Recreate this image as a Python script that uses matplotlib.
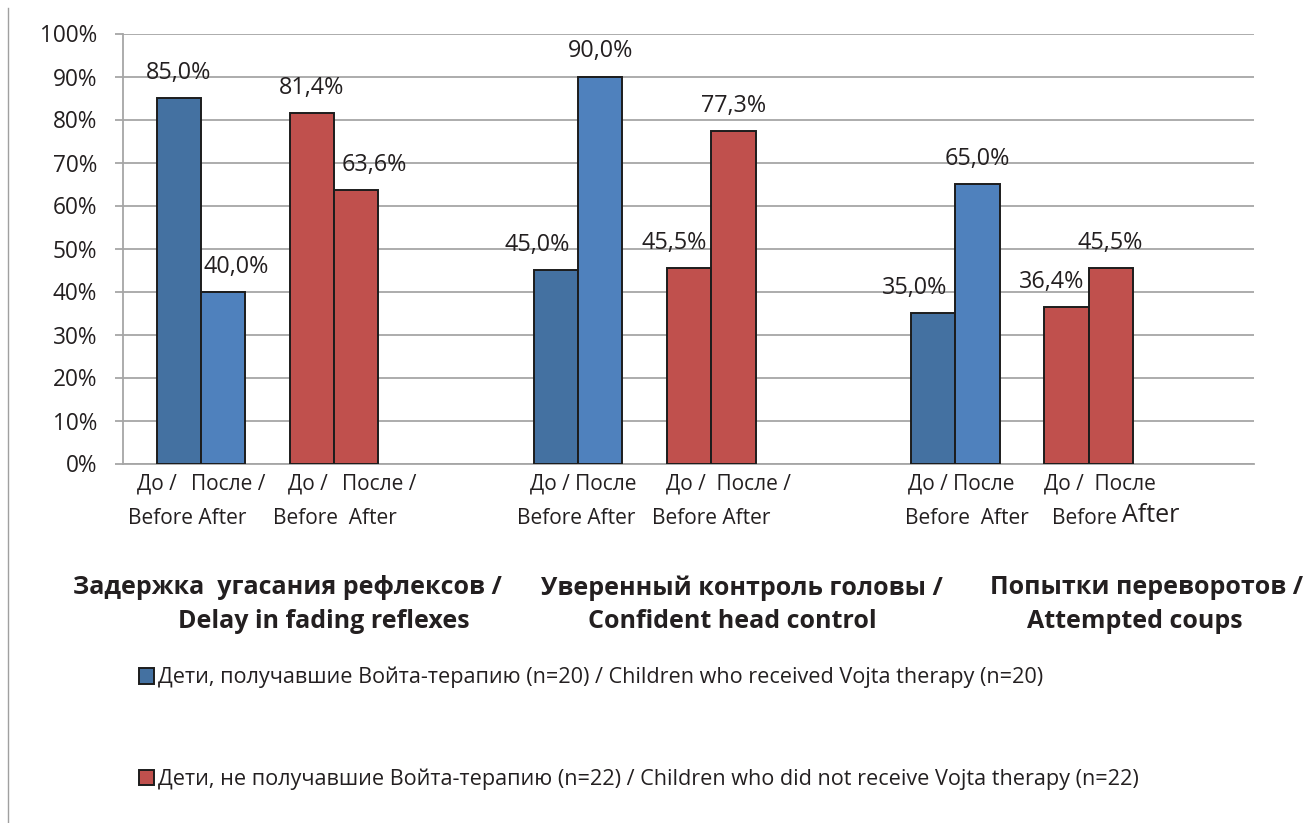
import matplotlib
matplotlib.use('Agg')
from matplotlib import pyplot as plt
from matplotlib.patches import Patch
from matplotlib.lines import Line2D
import numpy as np

plt.rcParams['font.family'] = ['Open Sans', 'DejaVu Sans']

# data (percent)
categories = ['Задержка  угасания рефлексов /', 'Уверенный контроль головы /', 'Попытки переворотов /']
categories_en = ['Delay in fading reflexes', 'Confident head control', 'Attempted coups']
vojta_before = [85.0, 45.0, 35.0]
vojta_after = [40.0, 90.0, 65.0]
no_vojta_before = [81.4, 45.5, 36.4]
no_vojta_after = [63.6, 77.3, 45.5]
series_names = ['Дети, получавшие Войта-терапию (n=20) / Children who received Vojta therapy (n=20)',
                'Дети, не получавшие Войта-терапию (n=22) / Children who did not receive Vojta therapy (n=22)']

# before/after captions under the bars (text, x start in px)
row1_labels = [('До /', 137), ('После /', 191), ('До /', 288), ('После /', 342),
               ('До / После', 530), ('До /  После /', 666),
               ('До / После', 908), ('До /  После', 1044)]
row2_labels = [('Before After', 128), ('Before  After', 273),
               ('Before After', 517), ('Before After', 652),
               ('Before  After', 905), ('Before', 1052)]

W, H = 1306, 823
fig = plt.figure(figsize=(W / 100, H / 100), dpi=100)
ax = fig.add_axes([122.7 / W, 1 - 463.5 / H, (1254.3 - 122.7) / W, (463.5 - 33.5) / H])

dark_blue = '#4471A1'
light_blue = '#4F81BD'
red = '#C0504D'
edge = '#1c1c1c'
txt = '#231f20'

x = np.arange(len(categories))
width = 0.1175
offsets = [0.090, 0.2075, 0.443, 0.5605]
series = [vojta_before, vojta_after, no_vojta_before, no_vojta_after]
colors = [dark_blue, light_blue, red, red]
# horizontal nudge of value labels (px), per series and category
nudges = [[0, -19, -19], [13, 0, 0], [0, -15, -15], [18, 0, 0]]

bars = []
for s, vals in enumerate(series):
    b = ax.bar(x + offsets[s], vals, width, align='edge', color=colors[s],
               edgecolor=edge, linewidth=1.4, zorder=3)
    bars.append(b)
    for i, rect in enumerate(b):
        ax.annotate(f'{vals[i]:.1f}%'.replace('.', ','),
                    (rect.get_x() + rect.get_width() / 2, rect.get_height()),
                    xytext=(nudges[s][i] * 0.72, 19 * 0.72), textcoords='offset points',
                    ha='center', va='baseline', fontsize=16.8, color=txt)

ax.set_xlim(0, 3)
ax.set_ylim(0, 100)
ax.set_yticks(np.arange(0, 101, 10))
ax.set_yticklabels([f'{v}%' for v in range(0, 101, 10)], fontsize=16.3, color=txt)
ax.set_xticks([])
ax.yaxis.grid(True, color='#A6A6A6', linewidth=1.3, zorder=0)
ax.set_axisbelow(True)
for sp in ['top', 'right']:
    ax.spines[sp].set_visible(False)
for sp in ['left', 'bottom']:
    ax.spines[sp].set_color('#A6A6A6')
    ax.spines[sp].set_linewidth(1.3)
ax.tick_params(axis='y', length=5.5, width=1.3, color='#A6A6A6', pad=13)


def px(xp, yp):
    return xp / W, 1 - yp / H


for label, xs in row1_labels:
    fig.text(*px(xs, 484), label, fontsize=15, color=txt, ha='left', va='center')
for label, xs in row2_labels:
    fig.text(*px(xs, 518), label, fontsize=15, color=txt, ha='left', va='center')
fig.text(*px(1122, 516), 'After', fontsize=18, color=txt, ha='left', va='center')

# category titles
title1_x = [287, 742, 1147]
title2_x = [324, 732, 1135]
for i in range(len(categories)):
    fig.text(*px(title1_x[i], 588), categories[i], fontsize=18, fontweight='bold',
             color=txt, ha='center', va='center')
    fig.text(*px(title2_x[i], 622), categories_en[i], fontsize=18, fontweight='bold',
             color=txt, ha='center', va='center')

handles = [Patch(facecolor=dark_blue, edgecolor=edge, linewidth=1.4),
           Patch(facecolor=red, edgecolor=edge, linewidth=1.4)]
fig.legend(handles, series_names, loc='upper left', bbox_to_anchor=px(139, 667),
           frameon=False, fontsize=15.6, handlelength=0.7, handleheight=0.7,
           handletextpad=0.2, labelspacing=3.7, borderpad=0, borderaxespad=0,
           labelcolor=txt)

# thin frame line on the left edge
fig.add_artist(Line2D([7.5 / W, 7.5 / W], [1 - 8 / H, 0], color='#A0A0A0', linewidth=1))

plt.savefig('out.png', dpi=100)
